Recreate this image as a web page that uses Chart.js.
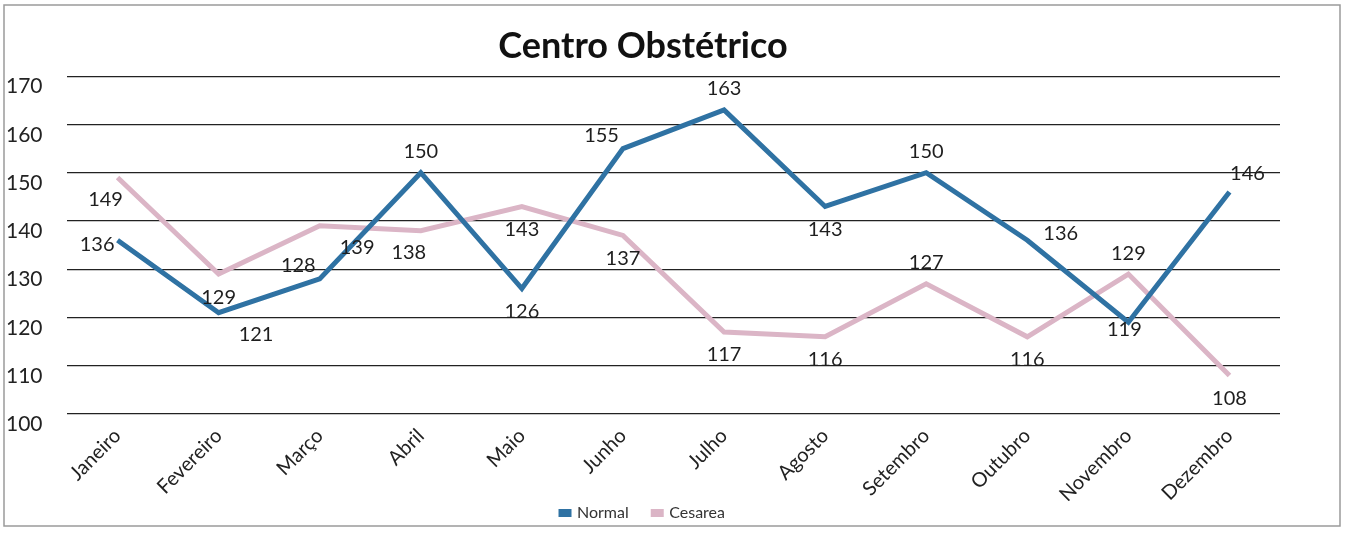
<!DOCTYPE html>
<html>
<head>
<meta charset="utf-8">
<script src="https://cdn.jsdelivr.net/npm/chart.js@4"></script>
<style>
  html, body { margin: 0; padding: 0; background: #fff; }
  canvas { display: block; }
</style>
</head>
<body>
<canvas id="myChart" width="1360" height="534"></canvas>
<script>
// Centro Obstétrico - partos por mês
const months = ["Janeiro", "Fevereiro", "Março", "Abril", "Maio", "Junho",
  "Julho", "Agosto", "Setembro", "Outubro", "Novembro", "Dezembro"];
const normalData = [136, 121, 128, 150, 126, 155, 163, 143, 150, 136, 119, 146];
const cesareaData = [149, 129, 139, 138, 143, 137, 117, 116, 127, 116, 129, 108];
const yTicks = [100, 110, 120, 130, 140, 150, 160, 170];

// where each value label sits relative to its point
const normalLabelPos = ["L", "BR", "TL", "T", "B", "TL", "T", "B", "T", "R", "C", "TR"];
const cesareaLabelPos = ["BL", "B", "BR", "BL", "B", "B", "B", "B", "T", "B", "T", "B"];

const FONT = "Lato, 'Open Sans', sans-serif";

const frame = {
  id: "frame",
  beforeDraw(chart) {
    const c = chart.ctx;
    c.save();
    c.fillStyle = "#fff";
    c.fillRect(0, 0, chart.width, chart.height);
    c.strokeStyle = "#9a9a9a";
    c.lineWidth = 1.5;
    c.strokeRect(4, 5, 1336, 521);
    c.restore();
  }
};

const valueLabels = {
  id: "valueLabels",
  afterDatasetsDraw(chart) {
    const c = chart.ctx;
    c.save();
    c.font = "20px " + FONT;
    c.fillStyle = "#1e1e1e";
    chart.data.datasets.forEach((ds, i) => {
      const meta = chart.getDatasetMeta(i);
      meta.data.forEach((pt, j) => {
        const pos = ds.labelPos[j];
        let x = pt.x, y = pt.y;
        c.textAlign = "center";
        c.textBaseline = "middle";
        if (pos === "T") { y -= 21; }
        else if (pos === "B") { y += 23; }
        else if (pos === "L") { x -= 3; c.textAlign = "right"; y += 4; }
        else if (pos === "R") { x += 16; c.textAlign = "left"; y -= 7; }
        else if (pos === "TL") { x -= 4; c.textAlign = "right"; y -= 13; }
        else if (pos === "TR") { x += 18; y -= 18; }
        else if (pos === "BL") { x -= 12; y += 22; }
        else if (pos === "BR") { x += 20; c.textAlign = "left"; y += 22; }
        else if (pos === "C") { x -= 4; y += 7; }
        c.fillText(String(ds.data[j]), x, y);
      });
    });
    c.restore();
  }
};

new Chart(document.getElementById("myChart"), {
  type: "line",
  data: {
    labels: months,
    datasets: [
      {
        label: "Normal",
        data: normalData,
        labelPos: normalLabelPos,
        borderColor: "#2f72a3",
        backgroundColor: "#2f72a3",
        borderWidth: 5,
        pointRadius: 0,
        tension: 0,
      },
      {
        label: "Cesarea",
        data: cesareaData,
        labelPos: cesareaLabelPos,
        borderColor: "#dbb5c6",
        backgroundColor: "#dbb5c6",
        borderWidth: 5,
        pointRadius: 0,
        tension: 0,
      },
    ],
  },
  options: {
    responsive: false,
    animation: false,
    layout: { padding: { left: 6, right: 80, top: 0, bottom: 3 } },
    plugins: {
      title: {
        display: true,
        text: "Centro Obstétrico",
        color: "#111",
        font: { family: FONT, size: 36, weight: "bold" },
        padding: { top: 25, bottom: 8 },
      },
      legend: {
        position: "bottom",
        labels: {
          color: "#333",
          font: { family: FONT, size: 16 },
          boxWidth: 8,
          boxHeight: 3,
          padding: 4,
          generateLabels(chart) {
            const items = Chart.defaults.plugins.legend.labels.generateLabels(chart);
            // keep a wider gap between the two entries
            items.forEach((it, k) => { if (k < items.length - 1) it.text += "     "; });
            return items;
          },
        },
      },
      tooltip: { enabled: false },
    },
    scales: {
      x: {
        offset: true,
        grid: { display: false },
        border: { display: false },
        ticks: {
          color: "#222",
          font: { family: FONT, size: 20 },
          autoSkip: false,
          maxRotation: 45,
          minRotation: 45,
          padding: 2,
        },
        afterFit(scale) { scale.height = 87; },
      },
      y: {
        min: 100,
        max: 170,
        afterBuildTicks(scale) { scale.ticks = yTicks.map(v => ({ value: v })); },
        grid: { color: "#222", lineWidth: 1.3, drawTicks: false },
        border: { display: false },
        ticks: {
          color: "#222",
          font: { family: FONT, size: 21 },
          align: "start",
          crossAlign: "far",
          padding: 8,
        },
        afterFit(scale) { scale.width = 61; },
      },
    },
  },
  plugins: [frame, valueLabels],
});
</script>
</body>
</html>
